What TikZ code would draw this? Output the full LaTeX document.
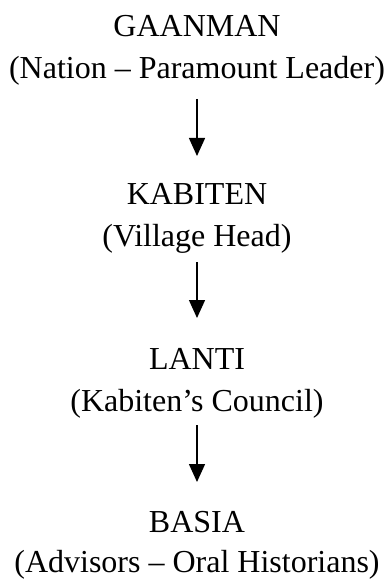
\documentclass[tikz,border=0pt]{standalone}
\usepackage{fontspec}
\setmainfont{Liberation Serif}
\usetikzlibrary{arrows.meta}
\begin{document}
\begin{tikzpicture}[x=1pt,y=-1pt,
  lbl/.style={anchor=base,inner sep=0pt,font=\fontsize{32}{38}\selectfont},
  arr/.style={line width=1.4pt,-{Triangle[width=16pt,length=18pt]}}]
\useasboundingbox (0,0) rectangle (387,580);
\node[lbl] (t1) at (197,37) {GAANMAN};
\node[lbl] (s1) at (197,79) {(Nation – Paramount Leader)};
\node[lbl] (t2) at (197,204) {KABITEN};
\node[lbl] (s2) at (197,246) {(Village Head)};
\node[lbl] (t3) at (197,369) {LANTI};
\node[lbl] (s3) at (197,411) {(Kabiten’s Council)};
\node[lbl] (t4) at (197,532) {BASIA};
\node[lbl] (s4) at (197,572) {(Advisors – Oral Historians)};
\draw[arr,shorten <=20pt,shorten >=48pt] (s1.base) -- (t2.base);
\draw[arr,shorten <=16pt,shorten >=51pt] (s2.base) -- (t3.base);
\draw[arr,shorten <=14pt,shorten >=50pt] (s3.base) -- (t4.base);
\end{tikzpicture}
\end{document}
